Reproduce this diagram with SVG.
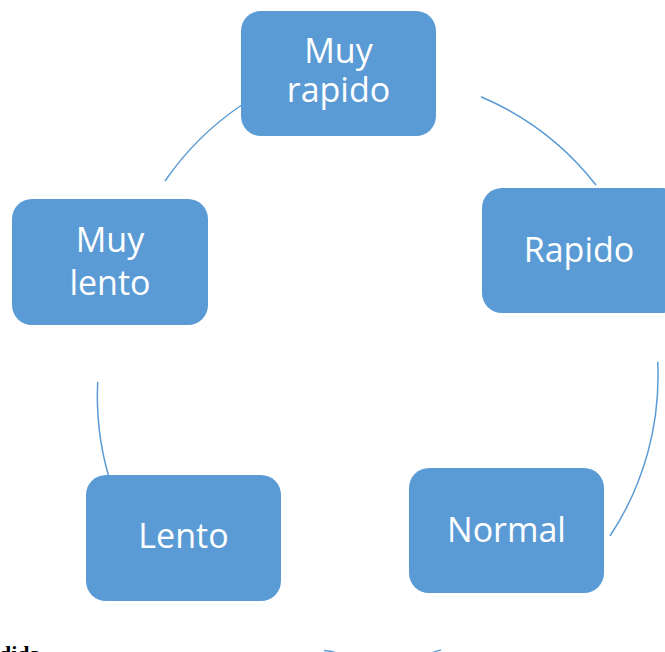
<svg xmlns="http://www.w3.org/2000/svg" width="665" height="652" viewBox="0 0 665 652">
<style>
.box{fill:#5B9BD5;}
.lbl{fill:#FFFFFF;font-family:"Open Sans","Liberation Sans",sans-serif;font-size:34px;text-anchor:middle;}
.arc{fill:none;stroke:#5B9BD5;stroke-width:1.5;}
.cap{fill:#000000;font-family:"Liberation Serif","Times New Roman",serif;font-size:22px;font-weight:bold;}
</style>
<rect width="665" height="652" fill="#FFFFFF"/>
<g id="connectors">
<path class="arc" d="M165,181 A290,290 0 0 1 241.7,105"/>
<path class="arc" d="M481,96.7 A290,290 0 0 1 596,185"/>
<path class="arc" d="M657.7,361.7 A290,290 0 0 1 610,536"/>
<path class="arc" d="M108.3,475 A290,290 0 0 1 97.7,381.7"/>
<path class="arc" d="M324,650.5 Q331,651 337,653"/>
<path class="arc" d="M432,653 Q436,651 441,650"/>
</g>
<g id="node-muy-rapido">
<rect class="box" x="241" y="11" width="195" height="125" rx="20"/>
<text class="lbl" x="338.5" y="63">Muy</text>
<text class="lbl" x="338.5" y="102">rapido</text>
</g>
<g id="node-rapido">
<rect class="box" x="482" y="188" width="200" height="125" rx="20"/>
<text class="lbl" x="579" y="262">Rapido</text>
</g>
<g id="node-normal">
<rect class="box" x="409" y="468" width="195" height="125" rx="20"/>
<text class="lbl" x="506.5" y="542">Normal</text>
</g>
<g id="node-lento">
<rect class="box" x="86" y="475" width="195" height="126" rx="20"/>
<text class="lbl" x="183.5" y="548">Lento</text>
</g>
<g id="node-muy-lento">
<rect class="box" x="12" y="199" width="196" height="126" rx="20"/>
<text class="lbl" x="110" y="252">Muy</text>
<text class="lbl" x="110" y="295">lento</text>
</g>
<text class="cap" x="-1" y="661">dida</text>
</svg>
